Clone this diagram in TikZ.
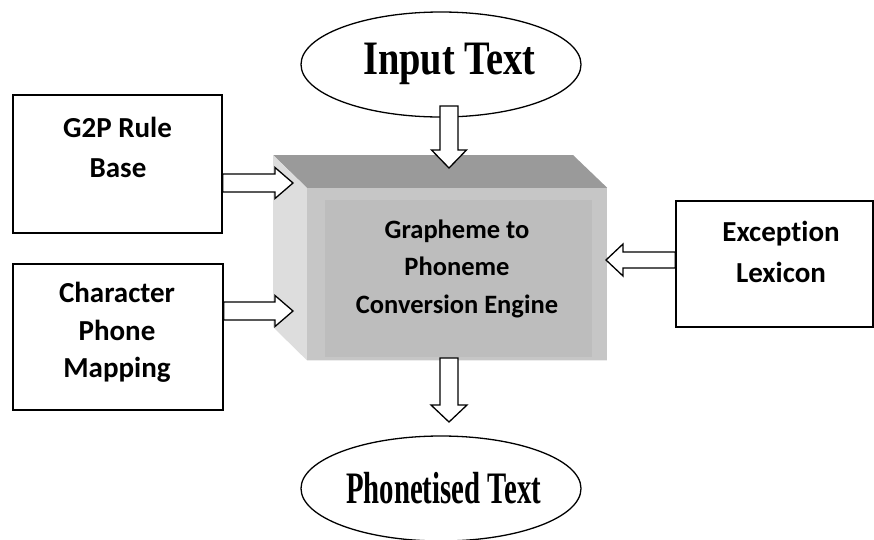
\documentclass[tikz,border=0pt]{standalone}
\usepackage{fontspec}
\newfontfamily\carl{Carlito}[Ligatures=NoCommon]
\newfontfamily\timr{Liberation Serif}
\usetikzlibrary{calc,shapes.geometric}
\definecolor{topface}{HTML}{9A9A9A}
\definecolor{leftface}{HTML}{DDDDDD}
\definecolor{frontface}{HTML}{C6C6C6}
\definecolor{innerface}{HTML}{BDBDBD}
\begin{document}
\begin{tikzpicture}[x=1pt,y=-1pt,
  box/.style={draw, line width=1.6pt, inner sep=0pt},
  lbl/.style={anchor=base, inner sep=0pt, font=\carl\bfseries\fontsize{29}{32}\selectfont},
  clbl/.style={anchor=base, inner sep=0pt, font=\carl\bfseries\fontsize{26.5}{30}\selectfont},
  ell/.style={ellipse, draw, line width=1.3pt, minimum width=280pt, minimum height=105pt, inner sep=0pt},
  etext/.style={anchor=base, inner sep=0pt, font=\timr\bfseries\fontsize{48}{50}\selectfont},
  blk/.style={draw, fill=white, line width=1.3pt, line join=miter},
  blockarrow/.style n args={3}{to path={
    let \p1=(\tikztostart), \p2=(\tikztotarget),
        \n1={veclen(\x2-\x1,\y2-\y1)}, \n2={atan2(\y2-\y1,\x2-\x1)} in
    {[shift={(\p1)}, rotate=\n2]
      (0pt,#1) -- (\n1-#3,#1) -- (\n1-#3,#2) -- (\n1,0pt) -- (\n1-#3,-#2)
      -- (\n1-#3,-#1) -- (0pt,-#1) -- cycle}
  }},
]
\useasboundingbox (0,0) rectangle (874,539);

% ellipses
\node[ell] (inp) at (441,64.5) {};
\node[etext] (inptext) at (449.5,74) {\scalebox{0.8}[1]{Input Text}};
\node[ell] (out) at (441,488.5) {};
\node[etext, font=\timr\bfseries\fontsize{45}{48}\selectfont] (outtext) at (443.5,503) {\scalebox{0.64}[1]{Phonetised Text}};

% 3D engine box
\coordinate (bk1) at (273,155);
\coordinate (bk2) at (573,155);
\coordinate (bk3) at (273,327);
\node[fill=frontface, minimum width=300pt, minimum height=172pt, inner sep=0pt] (eng) at (457,274) {};
\fill[innerface] (325,200) rectangle (592,357);
\fill[topface] (bk1) -- (bk2) -- (eng.north east) -- (eng.north west) -- cycle;
\fill[leftface] (bk1) -- (eng.north west) -- (eng.south west) -- (bk3) -- cycle;
\draw[line width=1pt, white!85!gray] (eng.south west) -- (eng.south east);
\node[clbl] (e1) at (457,238) {Grapheme to};
\node[clbl] (e2) at (457,275) {Phoneme};
\node[clbl] (e3) at (457,313) {Conversion Engine};

% side boxes
\node[box, minimum width=209pt, minimum height=138pt] (g2p) at (117.5,164) {};
\node[lbl] (g1) at (117.5,137) {G2P Rule};
\node[lbl] (g2) at (118,177) {Base};
\node[box, minimum width=210pt, minimum height=146pt] (chr) at (118,337) {};
\node[lbl] (c1) at (117,302) {Character};
\node[lbl] (c2) at (117,340) {Phone};
\node[lbl] (c3) at (117,377) {Mapping};
\node[box, minimum width=197pt, minimum height=126pt] (exc) at (774.5,264) {};
\node[lbl] (x1) at (781,241) {Exception};
\node[lbl] (x2) at (781,282) {Lexicon};

% block arrows
\coordinate (a1s) at (449,106);
\coordinate (a1e) at (449,168);
\coordinate (a2s) at (g2p.east |- 0,183);
\coordinate (a2e) at (293,183);
\coordinate (a3s) at (chr.east |- 0,311);
\coordinate (a3e) at (293,311);
\coordinate (a4s) at (exc.west |- 0,260);
\coordinate (a4e) at (606,260);
\coordinate (a5s) at (449,358);
\coordinate (a5e) at (449,422);
\draw[blk] (a1s) to[blockarrow={9pt}{17.5pt}{18pt}] (a1e);
\draw[blk] (a2s) to[blockarrow={9pt}{15.5pt}{18pt}] (a2e);
\draw[blk] (a3s) to[blockarrow={9pt}{15.5pt}{18pt}] (a3e);
\draw[blk] (a4s) to[blockarrow={8pt}{16pt}{17pt}] (a4e);
\draw[blk] (a5s) to[blockarrow={9pt}{18pt}{17pt}] (a5e);
\end{tikzpicture}
\end{document}
